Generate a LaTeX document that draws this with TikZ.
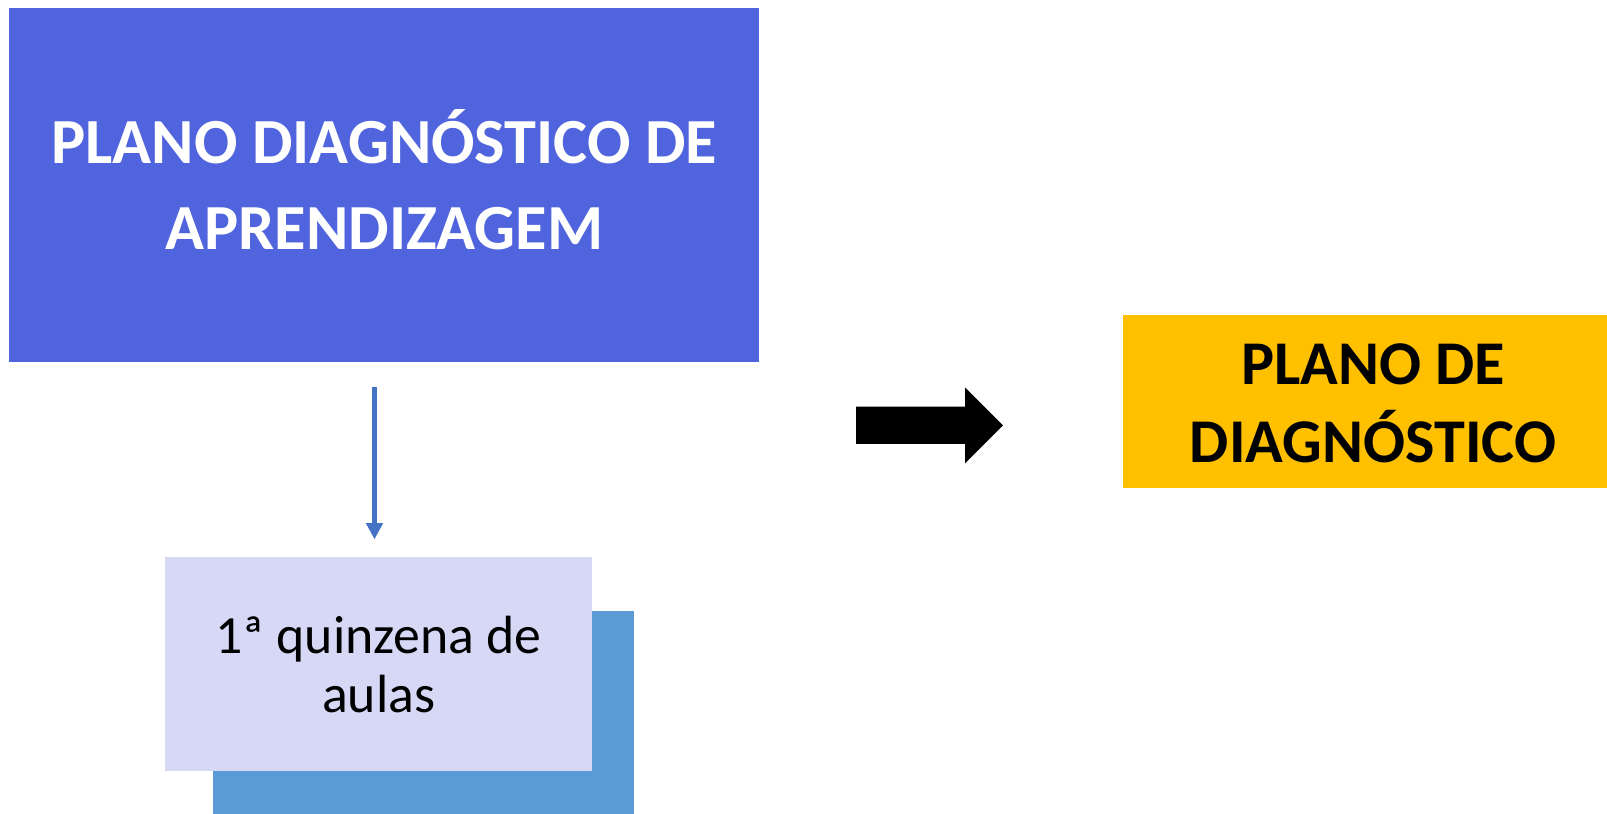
\documentclass[tikz,border=0pt]{standalone}
\usepackage{fontspec}
\setmainfont{Carlito}
\usetikzlibrary{arrows.meta}
\definecolor{PDBlue}{HTML}{5064DE}
\definecolor{PDSky}{HTML}{5B9BD5}
\definecolor{PDLilac}{HTML}{D6D8F5}
\definecolor{PDYellow}{HTML}{FFC000}
\definecolor{PDArrow}{HTML}{4472C4}

\begin{document}
\begin{tikzpicture}[x=1cm,y=1cm,
  caixa/.style={rectangle,inner sep=0pt,align=center}]
\path[use as bounding box,fill=white] (0,0) rectangle (16.07,8.14);
\node[caixa,fill=PDBlue,minimum width=7.50cm,minimum height=3.54cm,text=white,font=\fontsize{18.3}{24.5}\selectfont\bfseries] (plano) at (3.843,6.29) {};
\node[caixa,text=white,font=\fontsize{18.3}{24.5}\selectfont\bfseries] (planotxt) at (3.843,6.345) {PLANO DIAGNÓSTICO DE\\APRENDIZAGEM};
\fill[PDSky] (2.13,0) rectangle (6.344,2.03);
\node[caixa,fill=PDLilac,minimum width=4.274cm,minimum height=2.132cm,font=\fontsize{15.3}{16.8}\selectfont] (quinzena) at (3.787,1.499) {1ª quinzena de\\aulas};
\draw[PDArrow,line width=1.6pt,-{Triangle[width=4.6pt,length=4.6pt]},shorten <=0.242cm,shorten >=0.175cm] ([xshift=-0.98mm]plano.south) -- ([xshift=-0.98mm]plano.south |- quinzena.north);
\fill[black] (8.56,4.073) -- (9.65,4.073) -- (9.65,4.267) -- (10.03,3.887) -- (9.65,3.507) -- (9.65,3.70) -- (8.56,3.70) -- cycle;
\fill[PDYellow] (11.23,3.261) rectangle (16.07,4.994);
\node[caixa,font=\fontsize{17.7}{22.2}\selectfont\bfseries] (diag) at (13.73,4.11) {PLANO DE\\DIAGNÓSTICO};
\end{tikzpicture}
\end{document}
